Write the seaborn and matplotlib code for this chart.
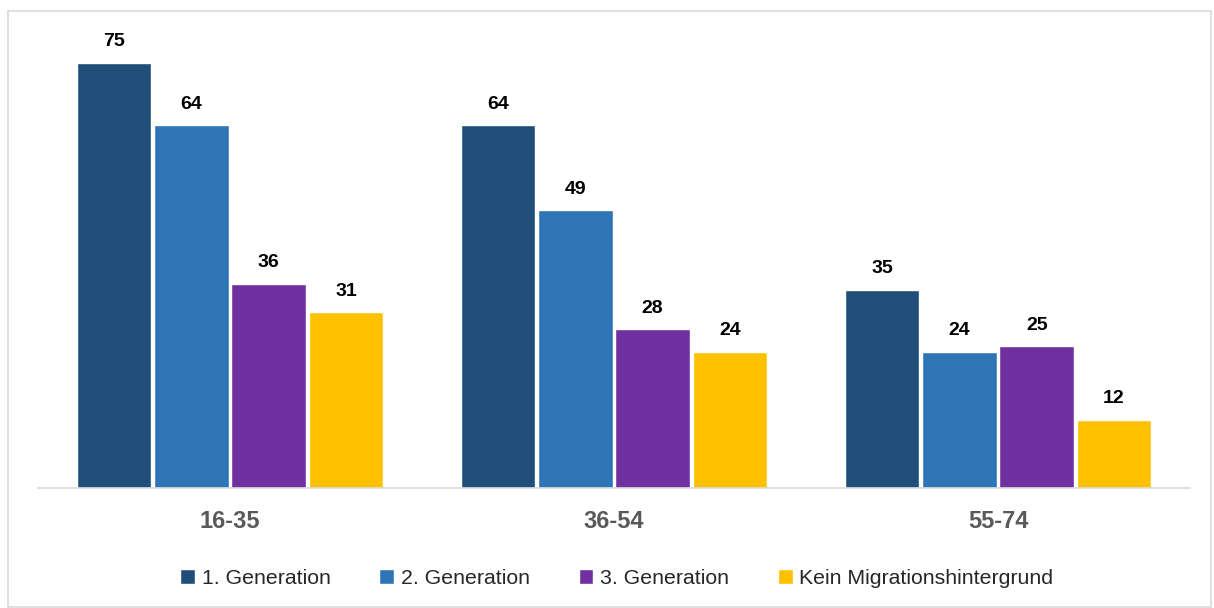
import seaborn as sns
import matplotlib.pyplot as plt
import pandas as pd
from matplotlib.patches import Rectangle

# Werte aus der Grafik
age_groups = ['16-35', '36-54', '55-74']
series = ['1. Generation', '2. Generation', '3. Generation', 'Kein Migrationshintergrund']
gen1 = [75, 64, 35]
gen2 = [64, 49, 24]
gen3 = [36, 28, 25]
kein = [31, 24, 12]
colors = ['#1F4E79', '#2E75B6', '#7030A0', '#FFC000']

rows = []
for name, vals in zip(series, [gen1, gen2, gen3, kein]):
    for grp, v in zip(age_groups, vals):
        rows.append({'Alter': grp, 'Gruppe': name, 'Wert': v})
df = pd.DataFrame(rows)

sns.set_style('white')
plt.rcParams['font.family'] = ['Liberation Sans', 'DejaVu Sans']

fig = plt.figure(figsize=(12.14, 6.08), dpi=100)
ax = fig.add_axes([0.0313, 0.1974, 0.949, 0.7456])

sns.barplot(data=df, x='Alter', y='Wert', hue='Gruppe', hue_order=series,
            palette=colors, width=0.805, gap=0.035, saturation=1, ax=ax)

for cont in ax.containers:
    ax.bar_label(cont, fontsize=14, fontweight='bold', padding=9, color='black')

ax.set_ylim(0, 80)
ax.set_xlim(-0.5, 2.5)
ax.set_xlabel('')
ax.set_ylabel('')
ax.set_yticks([])
for s in ['top', 'right', 'left']:
    ax.spines[s].set_visible(False)
ax.spines['bottom'].set_color('#D9D9D9')
ax.spines['bottom'].set_linewidth(1.2)
ax.tick_params(axis='x', length=0, pad=16, labelsize=17, labelcolor='#595959')
for lab in ax.get_xticklabels():
    lab.set_fontweight('bold')

ax.legend_.remove()
handles, labels = ax.get_legend_handles_labels()
fig.legend(handles, labels, loc='center', bbox_to_anchor=(0.508, 0.049), ncol=4,
           frameon=False, fontsize=15.3, handlelength=0.7, handleheight=0.7,
           handletextpad=0.3, columnspacing=2.3)

# Rahmen um den Diagrammbereich
fig.patches.append(Rectangle((8 / 1214, 0.002), 1203 / 1214, (598 - 2) / 608,
                             transform=fig.transFigure, fill=False,
                             edgecolor='#D9D9D9', linewidth=1.2))

fig.savefig('out.png', dpi=100)
